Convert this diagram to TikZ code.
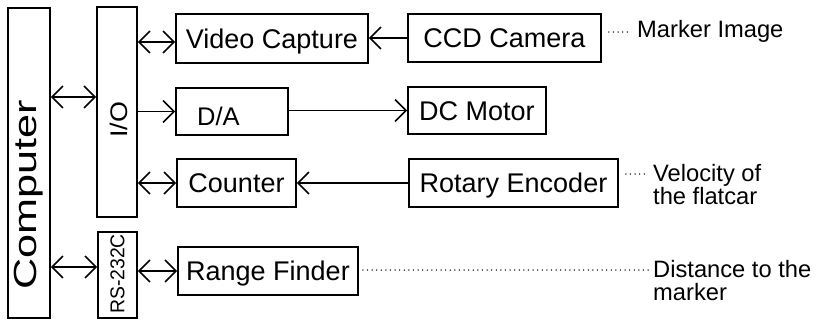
\documentclass[tikz,border=0pt]{standalone}
\usepackage{fontspec}
\setmainfont{Liberation Sans}
\usetikzlibrary{arrows.meta}
\begin{document}
\begin{tikzpicture}[x=1pt,y=-1pt,
  box/.style={draw, line width=1.7pt, inner sep=0pt, text height=19.5pt, text depth=0pt,
    font=\fontsize{27}{27}\selectfont},
  vlbl/.style={rotate=90, inner sep=0pt},
  note/.style={font=\fontsize{23.7}{23.7}\selectfont, inner sep=0pt, anchor=base west},
  barb/.style={Straight Barb[length=11pt,width=22pt,line width=1.6pt]},
  conn/.style={line width=1.6pt, -{Straight Barb[length=11pt,width=22pt,line width=1.6pt]}},
  dconn/.style={line width=1.6pt, {Straight Barb[length=11pt,width=22pt,line width=1.6pt]}-{Straight Barb[length=11pt,width=22pt,line width=1.6pt]}},
  dotline/.style={line width=1.5pt, line cap=round, dash pattern=on 0pt off 4.6pt}]
\useasboundingbox (0,0) rectangle (816,322);

% left column boxes
\node[box, minimum width=42, minimum height=310] (comp) at (29,163) {};
\node[vlbl, font=\fontsize{32}{32}\selectfont] (compt) at (29,195) {\scalebox{1.35}[1]{Computer}};
\node[box, minimum width=40, minimum height=210] (io) at (117,112) {};
\node[vlbl, font=\fontsize{24}{24}\selectfont] (iot) at (119,120) {\scalebox{1.12}[1]{I/O}};
\node[box, minimum width=39, minimum height=86] (rs) at (117.5,275) {};
\node[vlbl, font=\fontsize{20}{20}\selectfont] (rst) at (117.5,274) {\scalebox{0.97}[1]{RS-232C}};

% right boxes
\node[box, minimum width=192, minimum height=49] (vc) at (272,38.5) {Video Capture};
\node[box, minimum width=193, minimum height=48] (ccd) at (504.5,38) {CCD Camera};
\node[box, minimum width=112, minimum height=47] (da) at (232,111.5) {};
\node[inner sep=0pt, font=\fontsize{25.5}{25.5}\selectfont, text height=18.5pt, text depth=0pt] (dat) at (218.5,116) {D/A};
\node[box, minimum width=138, minimum height=47] (dc) at (477,110.5) {DC Motor};
\node[box, minimum width=119, minimum height=48] (cnt) at (236.5,183) {Counter};
\node[box, minimum width=209, minimum height=48] (re) at (513.5,183) {Rotary Encoder};
\node[box, minimum width=180, minimum height=48] (rf) at (268,271) {Range Finder};

% annotations
\node[note] (mk) at (637,37) {Marker Image};
\node[note] (vel1) at (653,181) {Velocity of};
\node[note] (vel2) at (653,204.5) {the flatcar};
\node[note] (dis1) at (653,277) {Distance to the};
\node[note] (dis2) at (653,300.5) {marker};

% helper rows
\coordinate (r1) at (0,97);
\coordinate (r2) at (0,267);
\coordinate (r3) at (0,42);
\coordinate (d1) at (0,32);
\coordinate (d2) at (0,174);
\coordinate (d3) at (0,270);

% connectors
\draw[dconn] (comp.east |- r1) -- (io.west |- r1);
\draw[dconn] (comp.east |- r2) -- (rs.west |- r2);
\draw[dconn] (io.east |- r3) -- (vc.west |- r3);
\draw[conn] (io.east |- da.west) -- (da.west);
\draw[dconn] (io.east |- cnt.west) -- (cnt.west);
\draw[dconn] (rs.east |- rf.west) -- (rf.west);
\draw[conn] (ccd.west) -- (vc.east |- ccd.west);
\draw[conn] (da.east |- dc.west) -- (dc.west);
\draw[conn] (re.west) -- (cnt.east |- re.west);

% dotted leaders
\draw[dotline, shorten <=7pt, shorten >=6pt] (ccd.east |- d1) -- (mk.west |- d1);
\draw[dotline, shorten <=7pt, shorten >=5pt] (re.east |- d2) -- (vel1.west |- d2);
\draw[dotline, shorten <=4pt, shorten >=3pt] (rf.east |- d3) -- (dis1.west |- d3);
\end{tikzpicture}
\end{document}
